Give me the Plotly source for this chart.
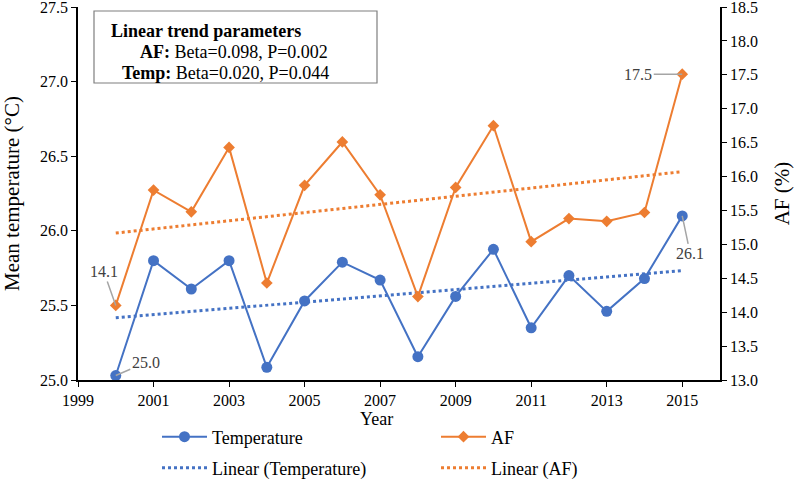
import numpy as np
import plotly.graph_objects as go

years = list(range(2000, 2016))
temperature = [25.03, 25.80, 25.61, 25.80, 25.085, 25.53, 25.79, 25.67,
               25.156, 25.56, 25.876, 25.35, 25.70, 25.46, 25.68, 26.10]
af = [14.10, 15.80, 15.48, 16.43, 14.43, 15.87, 16.51, 15.73,
      14.23, 15.84, 16.75, 15.04, 15.38, 15.34, 15.47, 17.51]
x_ticks = list(range(1999, 2016, 2))
left_ticks = [25.0, 25.5, 26.0, 26.5, 27.0, 27.5]
right_ticks = [13.0 + 0.5 * i for i in range(12)]

BLUE = "#4472C4"
ORANGE = "#ED7D31"
FONT = "Liberation Serif, Times New Roman, serif"

W, H = 794, 479
L, R, T, B = 78, 74, 7, 99
PW, PH = W - L - R, H - T - B


def px(x):
    return (x - L) / PW


def py(y):
    return (H - B - y) / PH


yrs = np.array(years, dtype=float)
t_fit = np.polyval(np.polyfit(yrs, temperature, 1), yrs)
a_fit = np.polyval(np.polyfit(yrs, af, 1), yrs)

fig = go.Figure()
fig.add_trace(go.Scatter(x=years, y=temperature, name="Temperature", mode="lines+markers",
                         line=dict(color=BLUE, width=2), marker=dict(symbol="circle", size=11, color=BLUE),
                         legend="legend"))
fig.add_trace(go.Scatter(x=years, y=af, name="AF", mode="lines+markers", yaxis="y2",
                         line=dict(color=ORANGE, width=2), marker=dict(symbol="diamond", size=9, color=ORANGE),
                         legend="legend2"))
fig.add_trace(go.Scatter(x=years, y=t_fit, name="Linear (Temperature)", mode="lines",
                         line=dict(color=BLUE, width=3, dash="dot"), legend="legend3"))
fig.add_trace(go.Scatter(x=years, y=a_fit, name="Linear (AF)", mode="lines", yaxis="y2",
                         line=dict(color=ORANGE, width=3, dash="dot"), legend="legend4"))

axis_common = dict(showgrid=False, zeroline=False, showline=True, linecolor="black", linewidth=1.5,
                   ticks="outside", ticklen=5, tickcolor="black", ticklabeloverflow="allow",
                   tickfont=dict(family=FONT, size=16, color="black"))


def leg(xp, yp):
    return dict(orientation="h", x=px(xp), y=py(yp), xanchor="left", yanchor="middle",
                font=dict(family=FONT, size=18, color="black"), bgcolor="rgba(0,0,0,0)", itemwidth=45)


fig.update_layout(
    width=W, height=H,
    margin=dict(l=L, r=R, t=T, b=B, autoexpand=False),
    paper_bgcolor="white", plot_bgcolor="white",
    font=dict(family=FONT, color="black"),
    xaxis=dict(range=[1999, 2016], tickvals=x_ticks, **axis_common),
    yaxis=dict(range=[25.0, 27.5001], tickvals=left_ticks, tickformat=".1f",
               title=dict(text="Mean temperature (°C)", font=dict(family=FONT, size=21), standoff=15),
               **axis_common),
    yaxis2=dict(range=[13.0, 18.5002], tickvals=right_ticks, tickformat=".1f", overlaying="y", side="right",
                title=dict(text="AF (%)", font=dict(family=FONT, size=21), standoff=19),
                **axis_common),
    legend=leg(157, 437),
    legend2=leg(436, 437),
    legend3=leg(157, 468),
    legend4=leg(436, 468),
    showlegend=True,
)

# x-axis title
fig.add_annotation(text="Year", x=px(376), y=py(419), xref="paper", yref="paper",
                   xanchor="center", yanchor="middle",
                   showarrow=False, font=dict(family=FONT, size=18))

# Trend parameter box
fig.add_shape(type="rect", xref="paper", yref="paper", x0=px(94), x1=px(377), y0=py(83), y1=py(11),
              line=dict(color="#7F7F7F", width=1.2), fillcolor="white", layer="below")
box_font = dict(family=FONT, size=18, color="black")
fig.add_annotation(text="<b>Linear trend parameters</b>", x=px(109), y=py(31), xref="paper", yref="paper",
                   xanchor="left", yanchor="middle", showarrow=False, font=box_font)
fig.add_annotation(text="<b>AF:</b> Beta=0.098, P=0.002", x=px(138), y=py(52), xref="paper", yref="paper",
                   xanchor="left", yanchor="middle", showarrow=False, font=box_font)
fig.add_annotation(text="<b>Temp:</b> Beta=0.020, P=0.044", x=px(120), y=py(73), xref="paper", yref="paper",
                   xanchor="left", yanchor="middle", showarrow=False, font=box_font)

# Data labels with leader lines
lab = dict(showarrow=True, arrowhead=0, arrowwidth=1.5, arrowcolor="#A5A5A5",
           font=dict(family=FONT, size=16, color="#404040"))
fig.add_annotation(x=years[0], y=temperature[0], xref="x", yref="y", text=f"{temperature[0]:.1f}",
                   ax=30, ay=-13, **lab)
fig.add_annotation(x=years[0], y=af[0], xref="x", yref="y2", text=f"{af[0]:.1f}",
                   ax=-12, ay=-34, **lab)
fig.add_annotation(x=years[-1], y=temperature[-1], xref="x", yref="y", text=f"{temperature[-1]:.1f}",
                   ax=8, ay=38, **lab)
fig.add_annotation(x=years[-1], y=af[-1], xref="x", yref="y2", text=f"{af[-1]:.1f}",
                   ax=-44, ay=0, **lab)

fig.write_html("out.html", config={"displayModeBar": False},
               post_script="document.body.style.margin='0px';document.body.style.overflow='hidden';")
